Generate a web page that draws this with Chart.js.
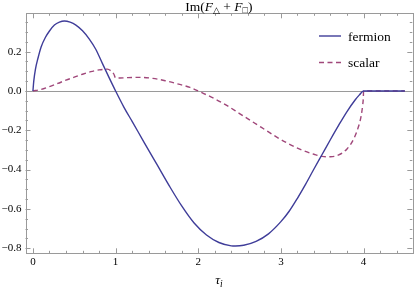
<!DOCTYPE html>
<html lang="en">
<head>
    <meta charset="UTF-8">
    <title>Im(F + F)</title>
    <script src="https://cdn.jsdelivr.net/npm/chart.js"></script>
    <style>
        body { margin: 0; background: #fff; }
        canvas { display: block; }
    </style>
</head>
<body>
    <canvas id="myChart" width="415" height="291"></canvas>

    <script>
    // values
    const tauFermion = [0, 0.01, 0.03, 0.06, 0.1, 0.15, 0.2, 0.26, 0.32, 0.38, 0.45, 0.52, 0.6, 0.68, 0.76, 0.84, 0.92, 1.0,
        1.1, 1.2, 1.35, 1.5, 1.65, 1.8, 1.95, 2.1, 2.25, 2.4, 2.45, 2.55, 2.7, 2.85, 3.0, 3.1, 3.2, 3.3, 3.4, 3.5, 3.6, 3.7,
        3.8, 3.9, 3.95, 4.0, 4.5];
    const fermion = [0, 0.05, 0.11, 0.165, 0.225, 0.272, 0.305, 0.335, 0.35, 0.356, 0.35, 0.335, 0.306, 0.265, 0.212, 0.14, 0.069, 0,
        -0.082, -0.155, -0.265, -0.374, -0.483, -0.585, -0.672, -0.733, -0.771, -0.788, -0.789, -0.785, -0.765, -0.727, -0.665,
        -0.612, -0.546, -0.474, -0.397, -0.322, -0.247, -0.174, -0.105, -0.045, -0.02, 0, 0];

    const tauScalar = [0, 0.1, 0.2, 0.3, 0.4, 0.5, 0.6, 0.7, 0.8, 0.9, 0.95, 0.98, 1.0, 1.05, 1.15, 1.3, 1.45, 1.6, 1.75,
        1.9, 2.05, 2.2, 2.35, 2.5, 2.65, 2.8, 2.95, 3.1, 3.25, 3.4, 3.5, 3.6, 3.7, 3.8, 3.88, 3.94, 3.97, 3.99, 3.998, 4.0, 4.5];
    const scalar = [0, 0.008, 0.022, 0.038, 0.055, 0.07, 0.085, 0.098, 0.107, 0.111, 0.1, 0.085, 0.066, 0.066, 0.068, 0.069,
        0.064, 0.052, 0.036, 0.018, -0.01, -0.04, -0.075, -0.115, -0.155, -0.195, -0.235, -0.27, -0.3, -0.322, -0.333, -0.335,
        -0.325, -0.295, -0.245, -0.18, -0.13, -0.07, -0.03, 0, 0];

    const xTicks = [0, 1, 2, 3, 4];
    const yTicks = [-0.8, -0.6, -0.4, -0.2, 0.0, 0.2];

    const serif = '"Liberation Serif", "Times New Roman", serif';
    const frameColor = '#9a9a9a';

    // frame, zero axis and inward ticks on all four sides
    const framePlugin = {
        id: 'frame',
        beforeDatasetsDraw(chart) {
            const { ctx, chartArea: a, scales: { x, y } } = chart;
            ctx.save();
            ctx.strokeStyle = frameColor;
            ctx.lineWidth = 1;

            // axis at y = 0
            const y0 = Math.round(y.getPixelForValue(0)) + 0.5;
            ctx.beginPath();
            ctx.moveTo(a.left, y0);
            ctx.lineTo(a.right, y0);
            ctx.stroke();

            ctx.beginPath();
            // x ticks (major every 1, minor every 0.2)
            for (let i = 0; i <= 22; i++) {
                const v = i * 0.2;
                const px = Math.round(x.getPixelForValue(v)) + 0.5;
                const len = (i % 5 === 0) ? 5 : 2.5;
                ctx.moveTo(px, a.bottom);
                ctx.lineTo(px, a.bottom - len);
                ctx.moveTo(px, a.top);
                ctx.lineTo(px, a.top + len);
            }
            // y ticks (major every 0.2, minor every 0.05)
            for (let i = -16; i <= 7; i++) {
                const v = i * 0.05;
                const py = Math.round(y.getPixelForValue(v)) + 0.5;
                const len = (i % 4 === 0) ? 5 : 2.5;
                ctx.moveTo(a.left, py);
                ctx.lineTo(a.left + len, py);
                ctx.moveTo(a.right, py);
                ctx.lineTo(a.right - len, py);
            }
            ctx.stroke();

            ctx.strokeRect(Math.round(a.left) + 0.5, Math.round(a.top) + 0.5,
                Math.round(a.right - a.left), Math.round(a.bottom - a.top));
            ctx.restore();
        }
    };

    // draw a run of text pieces (normal / italic / subscript)
    function drawPieces(ctx, pieces, cx, baseline) {
        let total = 0;
        pieces.forEach(p => {
            ctx.font = p.font;
            p.w = ctx.measureText(p.t).width;
            total += p.w;
        });
        let px = cx - total / 2;
        pieces.forEach(p => {
            ctx.font = p.font;
            ctx.fillText(p.t, px, baseline + (p.dy || 0));
            px += p.w;
        });
    }

    // title, axis label and legend
    const textPlugin = {
        id: 'texts',
        afterDraw(chart) {
            const { ctx, chartArea: a } = chart;
            const cx = (a.left + a.right) / 2;
            ctx.save();
            ctx.fillStyle = '#000';
            ctx.textBaseline = 'alphabetic';
            ctx.textAlign = 'left';

            drawPieces(ctx, [
                { t: 'Im(', font: '13.5px ' + serif },
                { t: 'F', font: 'italic 13.5px ' + serif },
                { t: '\u25B3', font: '9px ' + serif, dy: 2 },
                { t: ' + ', font: '13.5px ' + serif },
                { t: 'F', font: 'italic 13.5px ' + serif },
                { t: '\u25A1', font: '9px ' + serif, dy: 2 },
                { t: ')', font: '13.5px ' + serif }
            ], cx, 11);

            drawPieces(ctx, [
                { t: '\u03C4', font: 'italic 13.5px ' + serif },
                { t: 'i', font: 'italic 9.5px ' + serif, dy: 3 }
            ], cx, 284);

            // legend
            chart.data.datasets.forEach((ds, i) => {
                const ly = 36 + i * 26.5;
                ctx.save();
                ctx.strokeStyle = ds.borderColor;
                ctx.lineWidth = ds.borderWidth;
                ctx.setLineDash(ds.borderDash || []);
                ctx.beginPath();
                ctx.moveTo(319, ly);
                ctx.lineTo(341, ly);
                ctx.stroke();
                ctx.restore();
                ctx.font = '13.5px ' + serif;
                ctx.fillText(ds.label, 348, ly + 4.5);
            });
            ctx.restore();
        }
    };

    const ctx = document.getElementById('myChart').getContext('2d');
    new Chart(ctx, {
        type: 'line',
        data: {
            datasets: [
                {
                    label: 'fermion',
                    data: tauFermion.map((t, i) => ({ x: t, y: fermion[i] })),
                    borderColor: '#3f3d99',
                    borderWidth: 1.4,
                    pointRadius: 0,
                    cubicInterpolationMode: 'monotone'
                },
                {
                    label: 'scalar',
                    data: tauScalar.map((t, i) => ({ x: t, y: scalar[i] })),
                    borderColor: '#a0477a',
                    borderWidth: 1.4,
                    borderDash: [5, 3.5],
                    pointRadius: 0,
                    cubicInterpolationMode: 'monotone'
                }
            ]
        },
        options: {
            responsive: false,
            animation: false,
            devicePixelRatio: 1,
            layout: { padding: { top: 13.3, right: 2.7, left: 0, bottom: 0 } },
            plugins: {
                legend: { display: false },
                tooltip: { enabled: false }
            },
            scales: {
                x: {
                    type: 'linear',
                    min: -0.09,
                    max: 4.59,
                    afterFit: s => { s.height = 37.7; },
                    afterBuildTicks: s => { s.ticks = xTicks.map(v => ({ value: v })); },
                    grid: { display: false, drawTicks: false },
                    border: { display: false },
                    ticks: {
                        padding: 2,
                        color: '#000',
                        font: { family: serif, size: 11 },
                        maxRotation: 0,
                        callback: v => String(v)
                    }
                },
                y: {
                    type: 'linear',
                    min: -0.826,
                    max: 0.395,
                    afterFit: s => { s.width = 25.5; },
                    afterBuildTicks: s => { s.ticks = yTicks.map(v => ({ value: v })); },
                    grid: { display: false, drawTicks: false },
                    border: { display: false },
                    ticks: {
                        padding: 4,
                        color: '#000',
                        font: { family: serif, size: 11 },
                        callback: v => v.toFixed(1).replace('-', '\u2212')
                    }
                }
            }
        },
        plugins: [framePlugin, textPlugin]
    });
    </script>
</body>
</html>
